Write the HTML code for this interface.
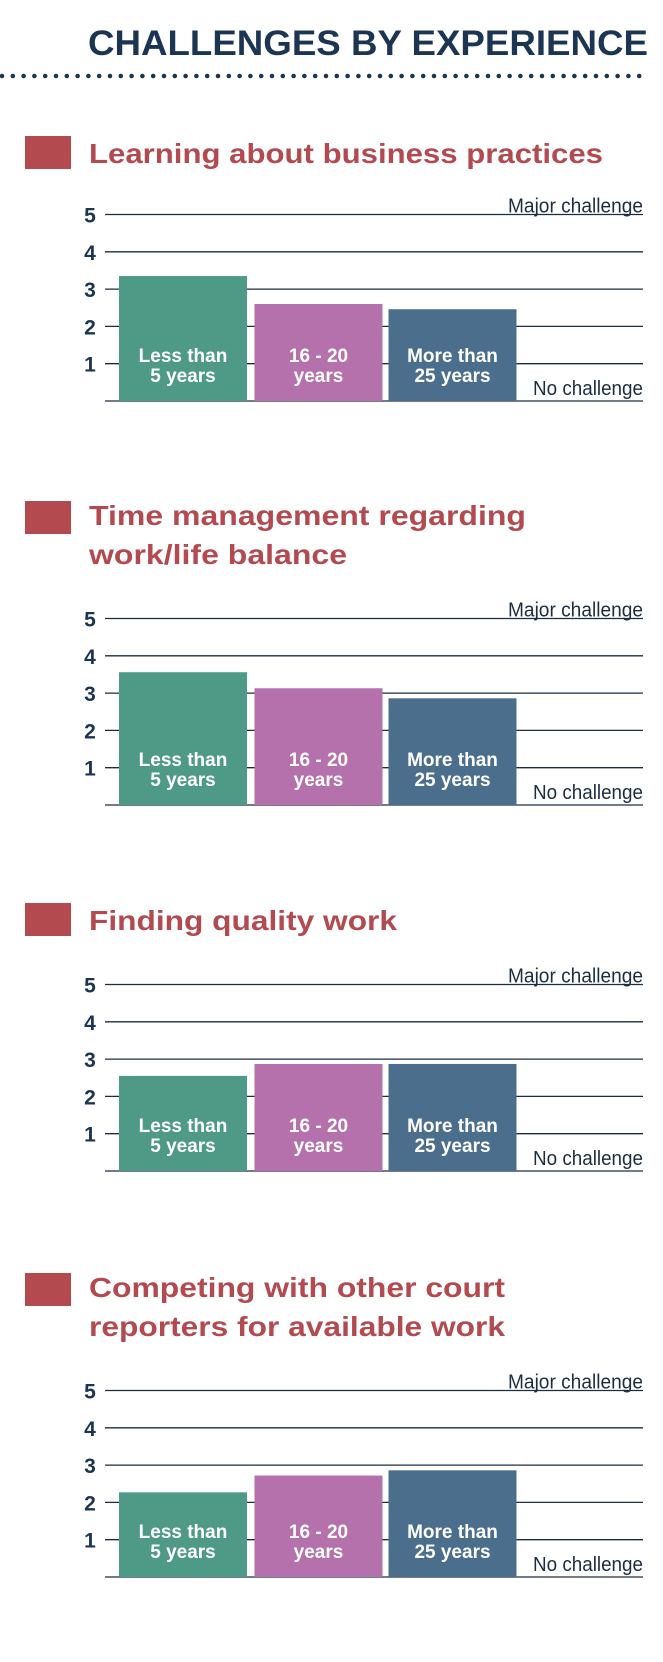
<!DOCTYPE html>
<html><head><meta charset="utf-8">
<style>
html,body{margin:0;padding:0;background:#fff;}
svg{display:block;}
.tt{font-family:"Liberation Sans",sans-serif;font-weight:bold;fill:#1c3553;}
.st{font-family:"Liberation Sans",sans-serif;font-weight:bold;fill:#b24a50;}
.nar{font-family:"Liberation Sans Narrow","Liberation Sans",sans-serif;}
</style></head>
<body>
<svg id="chart" width="663" height="1662" viewBox="0 0 663 1662" xmlns="http://www.w3.org/2000/svg">
<text class="tt" x="88" y="55" font-size="35" textLength="560" lengthAdjust="spacingAndGlyphs">CHALLENGES BY EXPERIENCE</text>
<g id="dots"></g>
</svg>
<script>
const categories = ["Less than|5 years", "16 - 20|years", "More than|25 years"];
const colors = ["#4e9a87", "#b571ab", "#4a6e8c"];
const ticks = [1, 2, 3, 4, 5];
const titles = [
  ["Learning about business practices"],
  ["Time management regarding", "work/life balance"],
  ["Finding quality work"],
  ["Competing with other court", "reporters for available work"]
];
const titleWidths = [[514], [437, 258], [308], [416, 416]];
const valuesLearning = [3.35, 2.6, 2.46];
const valuesTime = [3.56, 3.13, 2.86];
const valuesFinding = [2.55, 2.87, 2.87];
const valuesCompeting = [2.27, 2.72, 2.86];
const series = [valuesLearning, valuesTime, valuesFinding, valuesCompeting];
// layout
const squareY = [136, 501, 903, 1273];
const titleBase = [163, 525, 930, 1297];
const grid0 = [401, 805, 1171, 1577];
const unit = 37.3;
const NS = "http://www.w3.org/2000/svg";
const svg = document.getElementById('chart');
function mk(tag, attrs, parent) {
  const e = document.createElementNS(NS, tag);
  for (const k in attrs) e.setAttribute(k, attrs[k]);
  (parent || svg).appendChild(e);
  return e;
}
const dots = document.getElementById('dots');
for (let x = 2; x <= 648; x += 10.8) {
  const d = mk('circle', {cx: x, cy: 76, r: 2.3, fill: '#1c3553'}, dots);
  
  
}
const xL = 105, xR = 643;
const barX = [119, 254.5, 388.5], barW = 128;
series.forEach((vals, i) => {
  const g = mk('g', {});
  
  
  const sq = mk('rect', {x: 25, y: squareY[i], width: 46, height: 33, fill: '#b24a50'}, g);
  
  
  titles[i].forEach((t, j) => {
    const tx = mk('text', {class: 'st', x: 89, y: titleBase[i] + j * 39, 'font-size': 28, textLength: titleWidths[i][j], lengthAdjust: 'spacingAndGlyphs'}, g);
    
    
    tx.textContent = t;
  });
  const y = v => grid0[i] - v * unit;
  const base = mk('line', {x1: xL, x2: xR, y1: y(0), y2: y(0), stroke: '#1c2d40', 'stroke-width': 1.3}, g);
  
  
  ticks.forEach(t => {
    const l = mk('line', {x1: xL, x2: xR, y1: y(t), y2: y(t), stroke: '#1c2d40', 'stroke-width': 1.3}, g);
    
    
    const tl = mk('text', {class: 'nar', x: 90, y: y(t) + 8, 'font-size': 21, 'font-weight': 'bold', fill: '#1c3553', 'text-anchor': 'middle'}, g);
    
    
    tl.textContent = t;
  });
  const mj = mk('text', {class: 'nar', x: xR, y: y(5) - 2, 'font-size': 20, fill: '#1c2d40', 'text-anchor': 'end', textLength: 135, lengthAdjust: 'spacingAndGlyphs', 'font-weight': 300}, g);
  
  
  mj.textContent = 'Major challenge';
  const nc = mk('text', {class: 'nar', x: xR, y: y(0) - 6, 'font-size': 20, fill: '#1c2d40', 'text-anchor': 'end', textLength: 110, lengthAdjust: 'spacingAndGlyphs'}, g);
  
  
  nc.textContent = 'No challenge';
  vals.forEach((v, k) => {
    const r = mk('rect', {x: barX[k], y: y(v), width: barW, height: v * unit, fill: colors[k]}, g);
    
    
    const parts = categories[k].split('|');
    parts.forEach((p, m) => {
      const bt = mk('text', {class: 'nar', x: barX[k] + barW / 2, y: y(0) - 39 + m * 20, 'font-size': 19, 'font-weight': 'bold', fill: '#fff', 'text-anchor': 'middle'}, g);
      
      
      bt.textContent = p;
    });
  });
});
</script>
</body></html>
